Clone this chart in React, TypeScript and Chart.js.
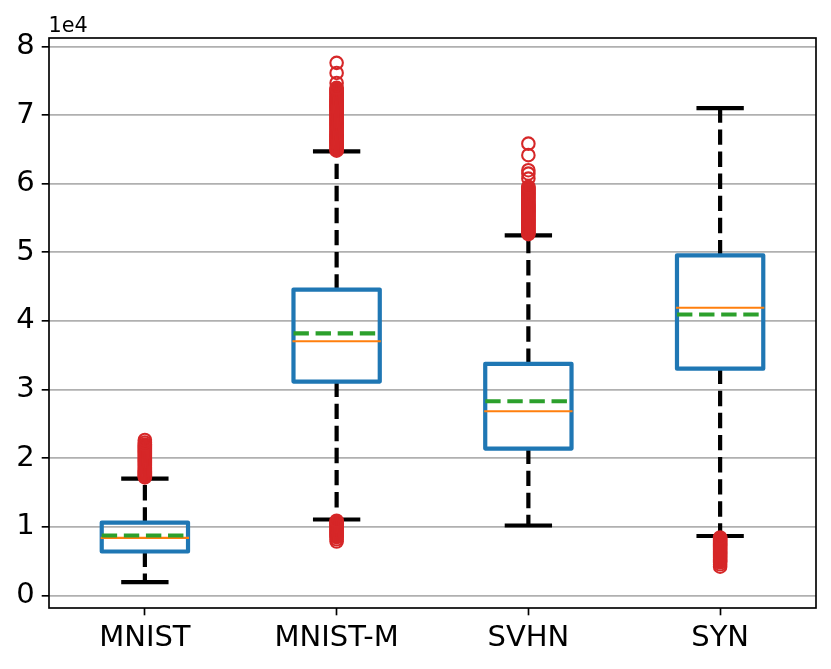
import React, { useEffect, useRef } from 'react';
import { Chart, registerables } from 'chart.js';

Chart.register(...registerables);

// ---- data ----
const categories = ['MNIST', 'MNIST-M', 'SVHN', 'SYN'];
const positions = [1, 2, 3, 4];
const whiskerLow = [1950, 11070, 10200, 8670];
const q1 = [6410, 31170, 21410, 33050];
const medians = [8400, 37040, 26840, 41920];
const means = [8740, 38200, 28300, 40940];
const q3 = [10630, 44570, 33750, 49560];
const whiskerHigh = [17040, 64710, 52480, 70990];

const fliersMNIST = [
  17200, 17350, 17500, 17650, 17800, 17950, 18100, 18250, 18400, 18550,
  18700, 18850, 19000, 19150, 19300, 19450, 19600, 19750, 19900, 20050,
  20200, 20350, 20500, 20650, 20800, 20950, 21100, 21250, 21400, 21550,
  21700, 21850, 22000, 22300, 22650,
];
const fliersMNISTM = [
  7860, 8200, 8500, 8650, 8800, 8950, 9100, 9250, 9400, 9550, 9700, 9850,
  10000, 10150, 10300, 10450, 10600, 10750, 10900,
  64800, 64950, 65100, 65250, 65400, 65550, 65700, 65850, 66000, 66150,
  66300, 66450, 66600, 66750, 66900, 67050, 67200, 67350, 67500, 67650,
  67800, 67950, 68100, 68250, 68400, 68550, 68700, 68850, 69000, 69150,
  69300, 69450, 69600, 69750, 69900, 70050, 70200, 70350, 70500, 70650,
  70800, 70950, 71100, 71250, 71400, 71550, 71700, 71850, 72000, 72150,
  72300, 72450, 72600, 72750, 72900, 73050, 73200, 73350, 73500, 73650,
  73800, 73950, 74670, 76130, 77600,
];
const fliersSVHN = [
  52650, 52800, 52950, 53100, 53250, 53400, 53550, 53700, 53850, 54000,
  54150, 54300, 54450, 54600, 54750, 54900, 55050, 55200, 55350, 55500,
  55650, 55800, 55950, 56100, 56250, 56400, 56550, 56700, 56850, 57000,
  57150, 57300, 57450, 57600, 57750, 57900, 58050, 58200, 58350, 58500,
  58650, 58800, 58950, 59100, 59250, 59400, 59550, 60740, 61460, 61960,
  64150, 65830,
];
const fliersSYN = [
  4200, 4550, 4850, 5000, 5150, 5300, 5450, 5600, 5750, 5900, 6050, 6200,
  6350, 6500, 6650, 6800, 6950, 7100, 7250, 7400, 7550, 7700, 7850, 8000,
  8150, 8300, 8450,
];
const fliers = [fliersMNIST, fliersMNISTM, fliersSVHN, fliersSYN];

const yTicks = [0, 10000, 20000, 30000, 40000, 50000, 60000, 70000, 80000];
const yTickLabels = ['0', '1', '2', '3', '4', '5', '6', '7', '8'];
const offsetLabel = '1e4';
const yMin = -1820;
const yMax = 81220;
const boxWidth = 0.45;
const capWidth = 0.225;

// ---- styles ----
const BLUE = '#1f77b4';
const ORANGE = '#ff7f0e';
const GREEN = '#2ca02c';
const RED = '#d62728';
const LW = 4.2;
const DASH = [15.4, 6.7];
const FONT = 'DejaVu Sans';

function buildDatasets() {
  const ds: any[] = [];
  const base = { type: 'scatter', showLine: true, pointRadius: 0, pointHoverRadius: 0, fill: false };
  positions.forEach((x, i) => {
    const hw = boxWidth / 2;
    const cw = capWidth / 2;
    // whiskers
    ds.push({ ...base, data: [{ x, y: q3[i] }, { x, y: whiskerHigh[i] }], borderColor: '#000', borderWidth: LW, borderDash: DASH, borderCapStyle: 'butt', order: 5 });
    ds.push({ ...base, data: [{ x, y: q1[i] }, { x, y: whiskerLow[i] }], borderColor: '#000', borderWidth: LW, borderDash: DASH, borderCapStyle: 'butt', order: 5 });
    // caps
    ds.push({ ...base, data: [{ x: x - cw, y: whiskerHigh[i] }, { x: x + cw, y: whiskerHigh[i] }], borderColor: '#000', borderWidth: LW, borderCapStyle: 'square', order: 4 });
    ds.push({ ...base, data: [{ x: x - cw, y: whiskerLow[i] }, { x: x + cw, y: whiskerLow[i] }], borderColor: '#000', borderWidth: LW, borderCapStyle: 'square', order: 4 });
    // box
    ds.push({
      ...base,
      data: [
        { x: x - hw, y: q1[i] }, { x: x + hw, y: q1[i] }, { x: x + hw, y: q3[i] },
        { x: x - hw, y: q3[i] }, { x: x - hw, y: q1[i] }, { x: x + hw, y: q1[i] },
      ],
      borderColor: BLUE, borderWidth: LW, borderJoinStyle: 'round', borderCapStyle: 'butt', order: 3,
    });
    // median
    ds.push({ ...base, data: [{ x: x - hw, y: medians[i] }, { x: x + hw, y: medians[i] }], borderColor: ORANGE, borderWidth: 2.1, borderCapStyle: 'square', order: 2 });
    // mean
    ds.push({ ...base, data: [{ x: x - hw, y: means[i] }, { x: x + hw, y: means[i] }], borderColor: GREEN, borderWidth: LW, borderDash: DASH, borderCapStyle: 'butt', order: 1 });
    // fliers
    ds.push({
      type: 'scatter', showLine: false,
      data: fliers[i].map((v) => ({ x, y: v })),
      pointStyle: 'circle', pointRadius: 6.25, pointHoverRadius: 6.25, pointBorderWidth: 2.1,
      pointBorderColor: RED, pointBackgroundColor: 'rgba(0,0,0,0)', borderColor: RED, backgroundColor: 'rgba(0,0,0,0)',
      order: 0,
    });
  });
  return ds;
}

const framePlugin = {
  id: 'frameAndOffset',
  afterDatasetsDraw(chart: any) {
    const { ctx, chartArea } = chart;
    const { left, top, right, bottom } = chartArea;
    ctx.save();
    ctx.strokeStyle = '#000';
    ctx.lineWidth = 1.67;
    ctx.strokeRect(left, top, right - left, bottom - top);
    ctx.font = `20.8px "${FONT}"`;
    ctx.fillStyle = '#000';
    ctx.textAlign = 'left';
    ctx.textBaseline = 'alphabetic';
    ctx.fillText(offsetLabel, left - 0.5, top - 6.3);
    ctx.restore();
  },
};

export default function App() {
  const ref = useRef<HTMLCanvasElement | null>(null);
  useEffect(() => {
    document.body.style.margin = '0';
    if (!ref.current) return;
    const chart = new Chart(ref.current, {
      type: 'scatter',
      data: { datasets: buildDatasets() },
      plugins: [framePlugin],
      options: {
        animation: false,
        responsive: true,
        maintainAspectRatio: false,
        events: [],
        layout: { padding: { left: 0, right: 15, top: 38, bottom: 0 } },
        plugins: { legend: { display: false }, tooltip: { enabled: false }, title: { display: false } },
        scales: {
          x: {
            type: 'linear',
            min: 0.5,
            max: 4.5,
            offset: false,
            border: { display: false },
            grid: { drawOnChartArea: false, drawTicks: true, tickLength: 7.3, tickWidth: 1.67, tickColor: '#000' },
            ticks: {
              color: '#000',
              font: { family: FONT, size: 29 },
              padding: 6,
              maxRotation: 0,
              autoSkip: false,
              callback: (v: any) => categories[positions.indexOf(Number(v))] ?? '',
            },
            afterBuildTicks: (axis: any) => { axis.ticks = positions.map((v) => ({ value: v })); },
            afterFit: (axis: any) => { axis.height = 61; },
          },
          y: {
            type: 'linear',
            min: yMin,
            max: yMax,
            border: { display: false },
            grid: { color: '#b0b0b0', lineWidth: 1.67, drawTicks: true, tickLength: 7.3, tickWidth: 1.67, tickColor: '#000' },
            ticks: {
              color: '#000',
              font: { family: FONT, size: 29 },
              padding: 7,
              autoSkip: false,
              callback: (v: any) => {
                const idx = yTicks.indexOf(Number(v));
                return idx >= 0 ? yTickLabels[idx] : '';
              },
            },
            afterBuildTicks: (axis: any) => { axis.ticks = yTicks.map((v) => ({ value: v })); },
            afterFit: (axis: any) => { axis.width = 49; },
          },
        },
      } as any,
    } as any);
    return () => chart.destroy();
  }, []);
  return (
    <div style={{ position: 'absolute', left: 0, top: 0, width: 831, height: 669 }}>
      <canvas ref={ref} />
    </div>
  );
}
